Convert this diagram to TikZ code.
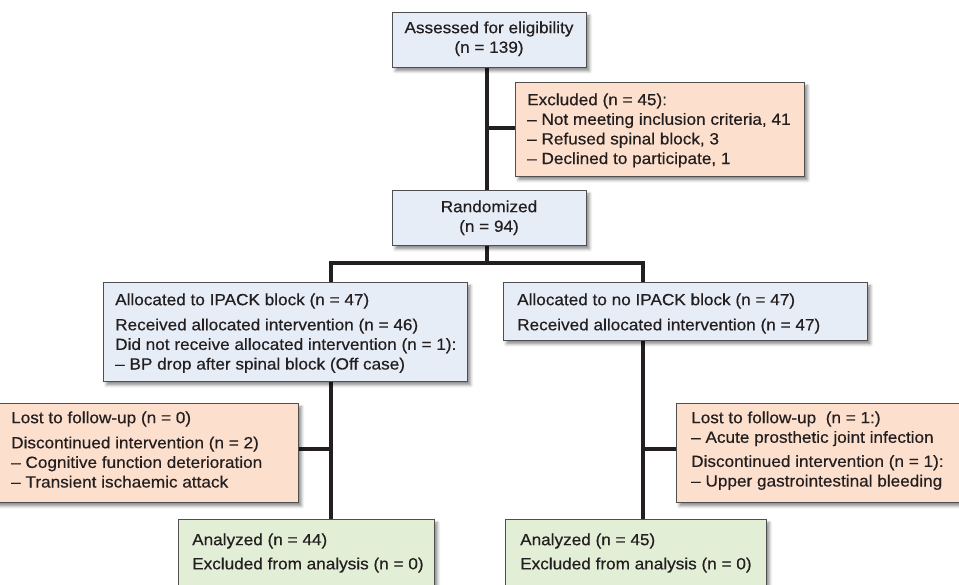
\documentclass[tikz,border=0pt]{standalone}
\usepackage{fontspec}
\setmainfont[FakeStretch=1.06,FakeBold=0.5]{Liberation Sans}
\usetikzlibrary{shadows.blur,backgrounds}
\definecolor{txtc}{HTML}{231F20}
\definecolor{bluef}{HTML}{E6EDF7}
\definecolor{orangef}{HTML}{FDDFCD}
\definecolor{greenf}{HTML}{E2EED6}
\definecolor{edgec}{HTML}{4F4F4F}
\tikzset{
  box/.style={draw=edgec, line width=0.9pt, rectangle, inner sep=0pt, anchor=north west,
    blur shadow={shadow xshift=3pt, shadow yshift=-3.5pt, shadow blur radius=3pt, shadow opacity=45}},
  bluebox/.style={box, fill=bluef},
  orangebox/.style={box, fill=orangef},
  greenbox/.style={box, fill=greenf},
  txt/.style={inner sep=0pt, anchor=north west, align=left, text=txtc,
    font=\fontsize{16.2}{19.6}\selectfont},
  ctxt/.style={txt, anchor=north, align=center},
  conn/.style={line width=4pt, draw=txtc}
}
\newcommand{\fl}{\rule{0pt}{13pt}}
\begin{document}
\begin{tikzpicture}[x=1pt,y=-1pt]
\useasboundingbox (0,0) rectangle (959,584);
% boxes
\node[bluebox, minimum width=194pt, minimum height=55pt] (assess) at (392,12) {};
\node[ctxt] (assessT) at (489,20) {\fl Assessed for eligibility\\(n = 139)};

\node[orangebox, minimum width=289pt, minimum height=94pt] (excl) at (515,82) {};
\node[txt] (exclT) at (527,92) {\fl Excluded (n = 45):\\– Not meeting inclusion criteria, 41\\– Refused spinal block, 3\\– Declined to participate, 1};

\node[bluebox, minimum width=194pt, minimum height=55pt] (rand) at (392,190) {};
\node[ctxt] (randT) at (489,199) {\fl Randomized\\(n = 94)};

\node[bluebox, minimum width=364pt, minimum height=99pt] (lblue) at (103,282) {};
\node[txt] (lblueT) at (115,292) {\fl Allocated to IPACK block (n = 47)\\[5.5pt]Received allocated intervention (n = 46)\\Did not receive allocated intervention (n = 1):\\– BP drop after spinal block (Off case)};

\node[bluebox, minimum width=364pt, minimum height=58pt] (rblue) at (503,282) {};
\node[txt] (rblueT) at (517,292) {\fl Allocated to no IPACK block (n = 47)\\[5.5pt]Received allocated intervention (n = 47)};

\node[orangebox, minimum width=318pt, minimum height=99pt] (lorange) at (-20,403) {};
\node[txt] (lorangeT) at (11,410) {\fl Lost to follow-up (n = 0)\\[5.5pt]Discontinued intervention (n = 2)\\– Cognitive function deterioration\\– Transient ischaemic attack};

\node[orangebox, minimum width=310pt, minimum height=99pt] (rorange) at (676,403) {};
\node[txt] (rorangeT) at (691,410) {\fl Lost to follow-up\ \ (n = 1:)\\– Acute prosthetic joint infection\\[4.5pt]Discontinued intervention (n = 1):\\– Upper gastrointestinal bleeding};

\node[greenbox, minimum width=256pt, minimum height=90pt] (lgreen) at (178,519) {};
\node[txt] (lgreenT) at (192,532) {\fl Analyzed (n = 44)\\[4.5pt]Excluded from analysis (n = 0)};

\node[greenbox, minimum width=261pt, minimum height=90pt] (rgreen) at (505,519) {};
\node[txt] (rgreenT) at (520,532) {\fl Analyzed (n = 45)\\[4.5pt]Excluded from analysis (n = 0)};

% connectors
\coordinate (exj) at (487,128);
\coordinate (rj) at (487,263);
\coordinate (lj) at (331,449);
\coordinate (rrj) at (643,449);
\begin{scope}[on background layer]
\draw[conn] (assess.south -| exj) -- (rand.north -| exj);
\draw[conn] (exj) -- (exj -| excl.west);
\draw[conn] (rand.south -| rj) -- (rj);
\draw[conn] (lblue.north -| 331,0) -- (331,263) -- (643,263) -- (rblue.north -| 643,0);
\draw[conn] (lblue.south -| lj) -- (lgreen.north -| lj);
\draw[conn] (lj) -- (lj -| lorange.east);
\draw[conn] (rblue.south -| rrj) -- (rgreen.north -| rrj);
\draw[conn] (rrj) -- (rrj -| rorange.west);
\end{scope}
\end{tikzpicture}
\end{document}
